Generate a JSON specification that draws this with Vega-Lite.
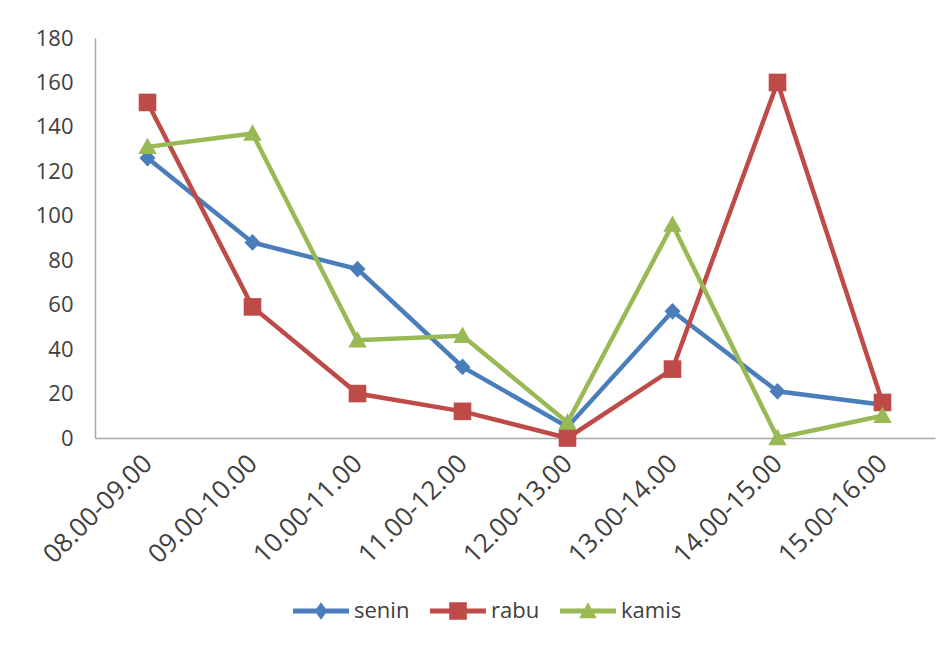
{
  "$schema": "https://vega.github.io/schema/vega-lite/v6.json",
  "width": 840,
  "height": 400,
  "autosize": {"type": "none"},
  "padding": {"left": 95, "top": 38, "right": 16, "bottom": 210},
  "background": "white",
  "config": {
    "view": {"stroke": null},
    "font": "Open Sans",
    "axis": {"labelFont": "Open Sans", "labelFontSize": 22, "labelColor": "#404040", "domainColor": "#a6a6a6", "domainWidth": 1.5, "ticks": false, "grid": false, "title": null}
  },
  "data": {
    "values": [
      {"jam": "08.00-09.00", "hari": "senin", "nilai": 126},
      {"jam": "09.00-10.00", "hari": "senin", "nilai": 88},
      {"jam": "10.00-11.00", "hari": "senin", "nilai": 76},
      {"jam": "11.00-12.00", "hari": "senin", "nilai": 32},
      {"jam": "12.00-13.00", "hari": "senin", "nilai": 5},
      {"jam": "13.00-14.00", "hari": "senin", "nilai": 57},
      {"jam": "14.00-15.00", "hari": "senin", "nilai": 21},
      {"jam": "15.00-16.00", "hari": "senin", "nilai": 15},
      {"jam": "08.00-09.00", "hari": "rabu", "nilai": 151},
      {"jam": "09.00-10.00", "hari": "rabu", "nilai": 59},
      {"jam": "10.00-11.00", "hari": "rabu", "nilai": 20},
      {"jam": "11.00-12.00", "hari": "rabu", "nilai": 12},
      {"jam": "12.00-13.00", "hari": "rabu", "nilai": 0},
      {"jam": "13.00-14.00", "hari": "rabu", "nilai": 31},
      {"jam": "14.00-15.00", "hari": "rabu", "nilai": 160},
      {"jam": "15.00-16.00", "hari": "rabu", "nilai": 16},
      {"jam": "08.00-09.00", "hari": "kamis", "nilai": 131},
      {"jam": "09.00-10.00", "hari": "kamis", "nilai": 137},
      {"jam": "10.00-11.00", "hari": "kamis", "nilai": 44},
      {"jam": "11.00-12.00", "hari": "kamis", "nilai": 46},
      {"jam": "12.00-13.00", "hari": "kamis", "nilai": 7},
      {"jam": "13.00-14.00", "hari": "kamis", "nilai": 96},
      {"jam": "14.00-15.00", "hari": "kamis", "nilai": 0},
      {"jam": "15.00-16.00", "hari": "kamis", "nilai": 10}
    ]
  },
  "encoding": {
    "x": {
      "field": "jam", "type": "nominal",
      "sort": ["08.00-09.00","09.00-10.00","10.00-11.00","11.00-12.00","12.00-13.00","13.00-14.00","14.00-15.00","15.00-16.00"],
      "scale": {"type": "point", "padding": 0.5},
      "axis": {"labelAngle": -45, "labelAlign": "right", "labelBaseline": "middle", "labelPadding": 21, "labelFontSize": 26}
    },
    "y": {
      "field": "nilai", "type": "quantitative",
      "scale": {"domain": [0, 180], "nice": false},
      "axis": {"values": [0,20,40,60,80,100,120,140,160,180], "labelPadding": 22}
    },
    "color": {
      "field": "hari", "type": "nominal",
      "scale": {"domain": ["senin", "rabu", "kamis"], "range": ["#4A7EBB", "#BE4B48", "#98B954"]},
      "legend": {
        "orient": "none", "legendX": 215, "legendY": 562, "direction": "horizontal", "title": null,
        "labelFont": "Open Sans", "labelFontSize": 22, "labelColor": "#404040",
        "symbolSize": 256, "symbolStrokeWidth": 0, "labelOffset": 22, "columnPadding": 20,
        "encode": {
          "symbols": {
            "update": {
              "shape": {"signal": "datum.value === 'senin' ? 'M-3.5,-0.31H3.5V0.31H-3.5Z M0,-1.1L0.8,0L0,1.1L-0.8,0Z' : datum.value === 'rabu' ? 'M-3.5,-0.31H3.5V0.31H-3.5Z M-1.1,-1.1H1.1V1.1H-1.1Z' : 'M-3.5,-0.31H3.5V0.31H-3.5Z M0,-1.1L1.1,0.9L-1.1,0.9Z'"},
              "fill": {"signal": "scale('color', datum.value)"},
              "strokeWidth": {"value": 0},
              "size": {"value": 256},
              "opacity": {"value": 1}
            }
          }
        }
      }
    }
  },
  "layer": [
    {
      "mark": {"type": "line", "strokeWidth": 4.5}
    },
    {
      "transform": [{"filter": "datum.hari === 'senin'"}],
      "mark": {"type": "point", "filled": true, "opacity": 1, "size": 256, "strokeWidth": 0, "shape": "M0,-1.05L1,0L0,1.05L-1,0Z"}
    },
    {
      "transform": [{"filter": "datum.hari === 'rabu'"}],
      "mark": {"type": "point", "filled": true, "opacity": 1, "size": 256, "strokeWidth": 0, "shape": "M-1.1,-1.1H1.1V1.1H-1.1Z"}
    },
    {
      "transform": [{"filter": "datum.hari === 'kamis'"}],
      "mark": {"type": "point", "filled": true, "opacity": 1, "size": 256, "strokeWidth": 0, "shape": "M0,-1.15L1.15,0.9L-1.15,0.9Z"}
    }
  ]
}
